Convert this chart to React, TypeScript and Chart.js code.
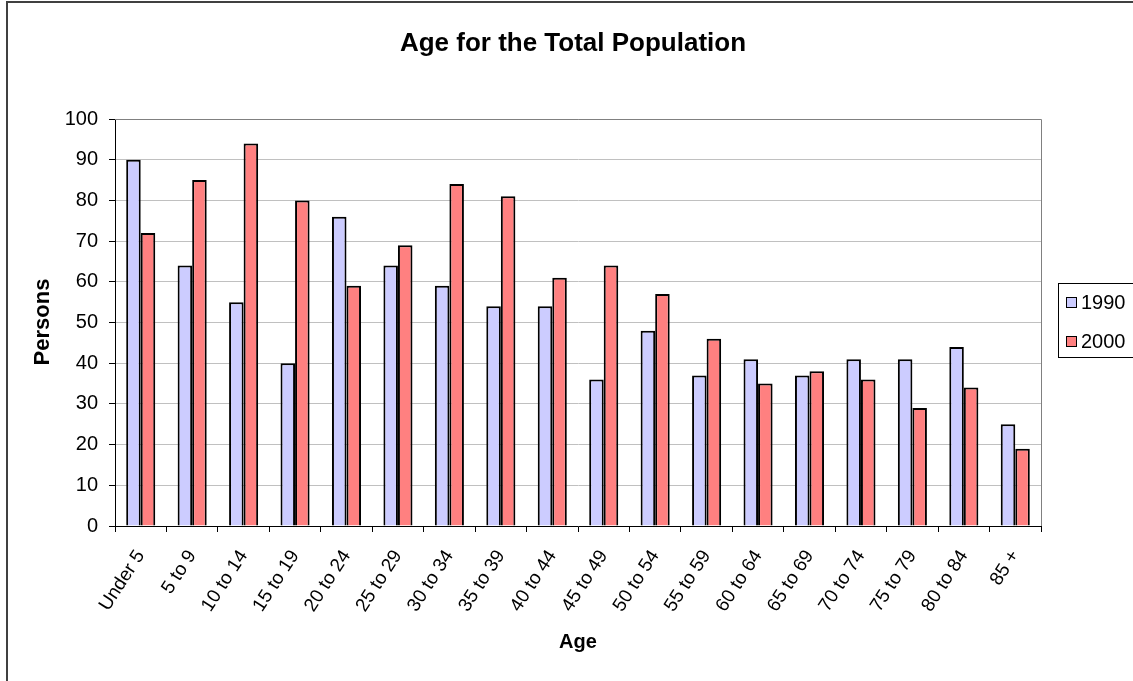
import React, { useEffect, useRef } from "react";
import { Chart, registerables } from "chart.js";

Chart.register(...registerables);

const categories = [
  "Under 5", "5 to 9", "10 to 14", "15 to 19", "20 to 24", "25 to 29",
  "30 to 34", "35 to 39", "40 to 44", "45 to 49", "50 to 54", "55 to 59",
  "60 to 64", "65 to 69", "70 to 74", "75 to 79", "80 to 84", "85 +",
];
const values1990 = [90, 64, 55, 40, 76, 64, 59, 54, 54, 36, 48, 37, 41, 37, 41, 41, 44, 25];
const values2000 = [72, 85, 94, 80, 59, 69, 84, 81, 61, 64, 57, 46, 35, 38, 36, 29, 34, 19];
const seriesNames = ["1990", "2000"];
const seriesColors = ["#CCCCFF", "#FF8080"];
const chartTitle = "Age for the Total Population";
const xTitle = "Age";
const yTitle = "Persons";
const yMin = 0;
const yMax = 100;
const yStep = 10;

const FONT = '"Liberation Sans", Arial, Helvetica, sans-serif';

const decorPlugin = {
  id: "decor",
  afterDraw(chart: any) {
    const ctx = chart.ctx as CanvasRenderingContext2D;
    const a = chart.chartArea;
    ctx.save();
    // plot area top/right border
    ctx.strokeStyle = "#808080";
    ctx.lineWidth = 1;
    ctx.beginPath();
    ctx.moveTo(a.left, a.top + 0.5);
    ctx.lineTo(a.right + 0.5, a.top + 0.5);
    ctx.lineTo(a.right + 0.5, a.bottom);
    ctx.stroke();

    // outer frame
    ctx.strokeStyle = "#404040";
    ctx.lineWidth = 2;
    ctx.strokeRect(7, 2, 1400, 1000);

    // title
    ctx.fillStyle = "#000";
    ctx.textAlign = "center";
    ctx.textBaseline = "middle";
    ctx.font = `bold 26px ${FONT}`;
    ctx.fillText(chartTitle, 573, 44);

    // x axis title
    ctx.font = `bold 20px ${FONT}`;
    ctx.fillText(xTitle, 578, 642);

    // y axis title
    ctx.save();
    ctx.translate(43, 322);
    ctx.rotate(-Math.PI / 2);
    ctx.font = `bold 22px ${FONT}`;
    ctx.fillText(yTitle, 0, 0);
    ctx.restore();

    // legend
    ctx.strokeStyle = "#000";
    ctx.lineWidth = 1;
    ctx.strokeRect(1058.5, 283.5, 120, 74);
    ctx.font = `20px ${FONT}`;
    ctx.textAlign = "left";
    const ds = chart.data.datasets;
    ds.forEach((d: any, i: number) => {
      const cy = 302 + i * 39;
      ctx.fillStyle = d.backgroundColor;
      ctx.fillRect(1066, cy - 5, 11, 11);
      ctx.strokeStyle = "#000";
      ctx.strokeRect(1066.5, cy - 4.5, 10, 10);
      ctx.fillStyle = "#000";
      ctx.fillText(d.label, 1081, cy + 1);
    });
    ctx.restore();
  },
};

export default function App() {
  const ref = useRef<HTMLCanvasElement | null>(null);

  useEffect(() => {
    document.body.style.margin = "0";
    const canvas = ref.current;
    if (!canvas) return;
    const chart = new Chart(canvas, {
      type: "bar",
      data: {
        labels: categories,
        datasets: [
          {
            label: seriesNames[0],
            data: values1990,
            backgroundColor: seriesColors[0],
            borderColor: "#000",
            borderWidth: 2,
          },
          {
            label: seriesNames[1],
            data: values2000,
            backgroundColor: seriesColors[1],
            borderColor: "#000",
            borderWidth: 2,
          },
        ],
      },
      options: {
        responsive: false,
        animation: false,
        devicePixelRatio: 1,
        layout: { padding: { left: 55, top: 119, right: 92, bottom: 35 } },
        datasets: {
          bar: { categoryPercentage: 0.565, barPercentage: 1 },
        },
        plugins: {
          legend: { display: false },
          title: { display: false },
          tooltip: { enabled: false },
        },
        scales: {
          x: {
            offset: true,
            afterFit: (s: any) => {
              s.height = 120;
            },
            grid: {
              offset: true,
              drawOnChartArea: false,
              drawTicks: true,
              tickLength: 6,
              tickColor: "#000",
              color: "#000",
            },
            border: { color: "#000", width: 1 },
            ticks: {
              autoSkip: false,
              maxRotation: 57,
              minRotation: 57,
              padding: 14,
              color: "#000",
              font: { family: FONT, size: 19 },
            },
          },
          y: {
            min: yMin,
            max: yMax,
            afterFit: (s: any) => {
              s.width = 60;
            },
            grid: {
              color: "#C0C0C0",
              tickColor: "#000",
              tickLength: 6,
            },
            border: { color: "#000", width: 1 },
            ticks: {
              stepSize: yStep,
              padding: 11,
              color: "#000",
              font: { family: FONT, size: 20 },
            },
          },
        },
      },
      plugins: [decorPlugin],
    });
    return () => chart.destroy();
  }, []);

  return (
    <canvas
      ref={ref}
      width={1133}
      height={681}
      style={{ display: "block", width: 1133, height: 681 }}
    />
  );
}
